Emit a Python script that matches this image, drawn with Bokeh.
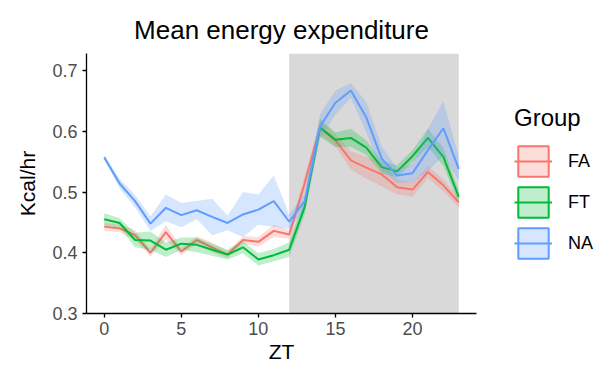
from bokeh.plotting import figure
from bokeh.models import (ColumnDataSource, Range1d, BoxAnnotation, Legend, LegendItem,
                          FixedTicker)
from bokeh.embed import file_html
from bokeh.resources import INLINE

zt = list(range(24))
groups = ["FA", "FT", "NA"]
fa_mean = [0.443, 0.440, 0.429, 0.400, 0.434, 0.402, 0.421, 0.409, 0.397, 0.421, 0.418, 0.436,
           0.430, 0.514, 0.606, 0.585, 0.552, 0.540, 0.529, 0.508, 0.504, 0.533, 0.511, 0.483]
fa_se = [0.007, 0.006, 0.008, 0.006, 0.012, 0.006, 0.006, 0.008, 0.006, 0.006, 0.008, 0.010,
         0.007, 0.012, 0.012, 0.010, 0.015, 0.018, 0.020, 0.012, 0.012, 0.010, 0.010, 0.008]
ft_mean = [0.455, 0.449, 0.421, 0.420, 0.405, 0.415, 0.413, 0.405, 0.397, 0.409, 0.389, 0.396,
           0.405, 0.475, 0.606, 0.586, 0.589, 0.573, 0.541, 0.534, 0.559, 0.589, 0.558, 0.492]
ft_se = [0.010, 0.008, 0.012, 0.015, 0.012, 0.010, 0.012, 0.010, 0.008, 0.010, 0.010, 0.010,
         0.012, 0.012, 0.015, 0.012, 0.015, 0.012, 0.010, 0.010, 0.010, 0.015, 0.015, 0.010]
na_mean = [0.557, 0.514, 0.485, 0.448, 0.474, 0.462, 0.470, 0.459, 0.449, 0.463, 0.471, 0.485,
           0.451, 0.485, 0.608, 0.647, 0.667, 0.623, 0.555, 0.527, 0.531, 0.569, 0.605, 0.538]
na_se = [0.004, 0.008, 0.010, 0.012, 0.022, 0.020, 0.015, 0.030, 0.012, 0.037, 0.025, 0.042,
         0.012, 0.012, 0.020, 0.020, 0.012, 0.025, 0.020, 0.012, 0.015, 0.035, 0.045, 0.020]
dark_start, dark_end = 12, 23
x_ticks = [0, 5, 10, 15, 20]
y_ticks = [0.3, 0.4, 0.5, 0.6, 0.7]

colors = {"FA": "#F8766D", "FT": "#00BA38", "NA": "#619CFF"}
series = {"FA": (fa_mean, fa_se), "FT": (ft_mean, ft_se), "NA": (na_mean, na_se)}

FONT = "Liberation Sans"
NAN = float("nan")

p = figure(frame_width=390, frame_height=260, output_backend="svg", toolbar_location=None,
           x_range=Range1d(-1.15, 24.15), y_range=Range1d(0.3, 0.728),
           min_border_left=86, min_border_top=53, min_border_bottom=60, min_border_right=10,
           background_fill_color="white", border_fill_color="white", outline_line_color=None)

p.title.text = "Mean energy expenditure"
p.title.align = "center"
p.title.text_font = FONT
p.title.text_font_size = "26px"
p.title.text_font_style = "normal"
p.title.text_color = "black"
p.title.standoff = 18

p.grid.visible = False
p.add_layout(BoxAnnotation(left=dark_start, right=dark_end, fill_color="#D9D9D9",
                           fill_alpha=1.0, line_color=None, level="underlay"))

items = []
for g in groups:
    m, s = series[g]
    src = ColumnDataSource(dict(x=zt, y=m,
                                lo=[a - b for a, b in zip(m, s)],
                                hi=[a + b for a, b in zip(m, s)]))
    p.varea(x="x", y1="lo", y2="hi", source=src, fill_color=colors[g], fill_alpha=0.25)
    ln = p.line(x="x", y="y", source=src, line_color=colors[g], line_width=2)
    key = p.quad(left=[NAN], right=[NAN], top=[NAN], bottom=[NAN], fill_color=colors[g],
                 fill_alpha=0.25, line_color=colors[g], line_width=2)
    items.append(LegendItem(label=g, renderers=[key, ln]))

legend = Legend(items=items, title="Group", location="center_left",
                title_text_font=FONT, title_text_font_size="24px", title_text_color="black",
                title_text_font_style="normal", title_standoff=10,
                label_text_font=FONT, label_text_font_size="18px", label_text_color="black",
                glyph_width=38, glyph_height=38, spacing=3, label_standoff=16,
                border_line_color=None, background_fill_alpha=0, padding=0, margin=38)
p.add_layout(legend, "right")

for ax in (p.xaxis, p.yaxis):
    ax.axis_line_color = "black"
    ax.axis_line_width = 1.3
    ax.major_tick_line_color = "black"
    ax.major_tick_line_width = 1.3
    ax.major_tick_out = 4
    ax.major_tick_in = 0
    ax.minor_tick_line_color = None
    ax.major_label_text_font = FONT
    ax.major_label_text_font_size = "18px"
    ax.major_label_text_color = "#4D4D4D"
    ax.axis_label_text_font = FONT
    ax.axis_label_text_font_size = "21px"
    ax.axis_label_text_font_style = "normal"
    ax.axis_label_text_color = "black"

p.xaxis.ticker = FixedTicker(ticks=x_ticks)
p.yaxis.ticker = FixedTicker(ticks=y_ticks)
p.xaxis.axis_label = "ZT"
p.yaxis.axis_label = "Kcal/hr"
p.xaxis.major_label_standoff = 4
p.yaxis.major_label_standoff = 5
p.xaxis.axis_label_standoff = 2
p.yaxis.axis_label_standoff = 10

open("out.html", "w").write(file_html(p, INLINE))
